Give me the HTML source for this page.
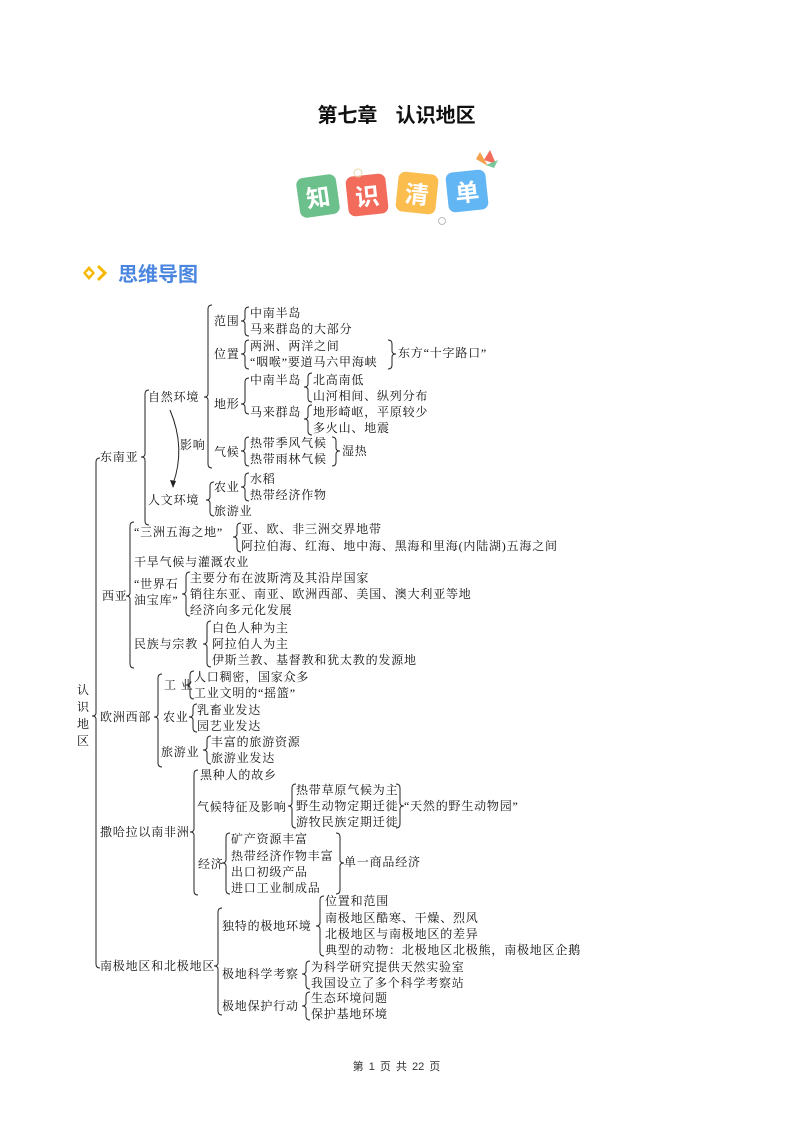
<!DOCTYPE html>
<html><head><meta charset="utf-8"><style>
html,body{margin:0;padding:0;background:#fff}
#pg{position:relative;width:793px;height:1122px;overflow:hidden;font-family:"Liberation Serif","Noto Serif CJK SC","Noto Sans CJK SC",serif;color:#111}
.t{position:absolute;font-size:12px;line-height:16px;white-space:nowrap;letter-spacing:0.8px}
.tile{position:absolute;width:40px;height:40px;border-radius:7px;color:#fff;font:bold 24px/40px "Noto Sans CJK SC",sans-serif;text-align:center}
</style></head><body><div id="pg">
<div style="position:absolute;left:0;width:793px;top:101px;text-align:center;font:bold 20px/26px 'Noto Sans CJK SC',sans-serif;">第七章&nbsp;&nbsp;&nbsp;&nbsp;认识地区</div>
<div class="tile" style="left:298px;top:176px;background:#6cc08b;transform:rotate(-8deg)">知</div>
<div class="tile" style="left:347px;top:175px;background:#f26b5b;transform:rotate(-6deg)">识</div>
<div class="tile" style="left:397px;top:173px;background:#fbbd4e;transform:rotate(6deg)">清</div>
<div class="tile" style="left:447px;top:171px;background:#63b6f4;transform:rotate(-6deg)">单</div>
<svg style="position:absolute;left:0;top:0" width="793" height="1122">
<path d="M480 152 L488 166 L476 159Z" fill="#f5a04a"/><path d="M490 150 L496 164 L484 160Z" fill="#f26b5b"/><path d="M498 160 L494 168 L486 165Z" fill="#7cc79a"/>
<circle cx="358" cy="173" r="4" fill="none" stroke="#e8d9a8"/><circle cx="442" cy="221" r="3.5" fill="none" stroke="#bbb"/>
<path d="M83 273 L89 266 L95 273 L89 280Z M86 273 L89 270 L92 273 L89 276Z" fill="#f5b800" fill-rule="evenodd"/>
<path d="M98 266 L105 273 L98 280" fill="none" stroke="#f5b800" stroke-width="3"/>
<g fill="none" stroke="#222" stroke-width="1">
<path d="M100,458 Q96,458 96,462 V713 Q96,716 92,716 Q96,716 96,719 V964 Q96,968 100,968"/>
<path d="M149,390 Q145,390 145,394 V454 Q145,457 141,457 Q145,457 145,460 V521 Q145,525 149,525"/>
<path d="M212,305 Q208,305 208,309 V394 Q208,397 204,397 Q208,397 208,400 V464 Q208,468 212,468"/>
<path d="M249,307 Q245,307 245,311 V318 Q245,321 241,321 Q245,321 245,324 V332 Q245,336 249,336"/>
<path d="M249,340 Q245,340 245,344 V351 Q245,354 241,354 Q245,354 245,357 V365 Q245,369 249,369"/>
<path d="M249,378 Q245,378 245,382 V401 Q245,404 241,404 Q245,404 245,407 V410 Q245,414 249,414"/>
<path d="M312,373 Q308,373 308,377 V384 Q308,387 304,387 Q308,387 308,390 V398 Q308,402 312,402"/>
<path d="M312,405 Q308,405 308,409 V416 Q308,419 304,419 Q308,419 308,422 V431 Q308,435 312,435"/>
<path d="M249,437 Q245,437 245,441 V448 Q245,451 241,451 Q245,451 245,454 V462 Q245,466 249,466"/>
<path d="M214,482 Q210,482 210,486 V497 Q210,500 206,500 Q210,500 210,503 V512 Q210,516 214,516"/>
<path d="M249,473 Q245,473 245,477 V484 Q245,487 241,487 Q245,487 245,490 V497 Q245,501 249,501"/>
<path d="M134,522 Q130,522 130,526 V593 Q130,596 126,596 Q130,596 130,599 V664 Q130,668 134,668"/>
<path d="M241,523 Q237,523 237,527 V534 Q237,537 233,537 Q237,537 237,540 V548 Q237,552 241,552"/>
<path d="M190,572 Q186,572 186,576 V591 Q186,594 182,594 Q186,594 186,597 V612 Q186,616 190,616"/>
<path d="M211,621 Q207,621 207,625 V641 Q207,644 203,644 Q207,644 207,647 V663 Q207,667 211,667"/>
<path d="M162,674 Q158,674 158,678 V714 Q158,717 154,717 Q158,717 158,720 V763 Q158,767 162,767"/>
<path d="M194,671 Q190,671 190,675 V682 Q190,685 186,685 Q190,685 190,688 V695 Q190,699 194,699"/>
<path d="M197,704 Q193,704 193,708 V714 Q193,717 189,717 Q193,717 193,720 V728 Q193,732 197,732"/>
<path d="M211,736 Q207,736 207,740 V747 Q207,750 203,750 Q207,750 207,753 V760 Q207,764 211,764"/>
<path d="M198,770 Q194,770 194,774 V829 Q194,832 190,832 Q194,832 194,835 V891 Q194,895 198,895"/>
<path d="M296,784 Q292,784 292,788 V803 Q292,806 288,806 Q292,806 292,809 V824 Q292,828 296,828"/>
<path d="M230,833 Q226,833 226,837 V860 Q226,863 222,863 Q226,863 226,866 V890 Q226,894 230,894"/>
<path d="M222,908 Q218,908 218,912 V963 Q218,966 214,966 Q218,966 218,969 V1011 Q218,1015 222,1015"/>
<path d="M324,896 Q320,896 320,900 V923 Q320,926 316,926 Q320,926 320,929 V952 Q320,956 324,956"/>
<path d="M310,961 Q306,961 306,965 V971 Q306,974 302,974 Q306,974 306,977 V985 Q306,989 310,989"/>
<path d="M310,992 Q306,992 306,996 V1003 Q306,1006 302,1006 Q306,1006 306,1009 V1016 Q306,1020 310,1020"/>
<path d="M388,340 Q392,340 392,344 V351 Q392,354 396,354 Q392,354 392,357 V365 Q392,369 388,369"/>
<path d="M332,437 Q336,437 336,441 V448 Q336,451 340,451 Q336,451 336,454 V462 Q336,466 332,466"/>
<path d="M396,784 Q400,784 400,788 V803 Q400,806 404,806 Q400,806 400,809 V824 Q400,828 396,828"/>
<path d="M336,833 Q340,833 340,837 V860 Q340,863 344,863 Q340,863 340,866 V890 Q340,894 336,894"/>
<path d="M170,410 Q186,448 173,484"/>
</g>
<path d="M173,488 L170,480 L176,481Z" fill="#222"/>
</svg>
<div style="position:absolute;left:118px;top:259px;font:bold 20px/28px 'Noto Sans CJK SC',sans-serif;color:#4a86e0">思维导图</div>
<div class="t" style="left:77px;top:682px;line-height:17px;width:14px;white-space:normal">认识地区</div>
<div class="t" style="left:250px;top:305px">中南半岛</div>
<div class="t" style="left:250px;top:321px">马来群岛的大部分</div>
<div class="t" style="left:214px;top:313px">范围</div>
<div class="t" style="left:250px;top:338px">两洲、两洋之间</div>
<div class="t" style="left:250px;top:354px">“咽喉”要道马六甲海峡</div>
<div class="t" style="left:214px;top:346px">位置</div>
<div class="t" style="left:398px;top:345px">东方“十字路口”</div>
<div class="t" style="left:250px;top:372px">中南半岛</div>
<div class="t" style="left:313px;top:372px">北高南低</div>
<div class="t" style="left:313px;top:388px">山河相间、纵列分布</div>
<div class="t" style="left:214px;top:396px">地形</div>
<div class="t" style="left:250px;top:404px">马来群岛</div>
<div class="t" style="left:313px;top:404px">地形崎岖，平原较少</div>
<div class="t" style="left:313px;top:420px">多火山、地震</div>
<div class="t" style="left:148px;top:389px">自然环境</div>
<div class="t" style="left:180px;top:437px">影响</div>
<div class="t" style="left:214px;top:444px">气候</div>
<div class="t" style="left:250px;top:435px">热带季风气候</div>
<div class="t" style="left:250px;top:451px">热带雨林气候</div>
<div class="t" style="left:342px;top:443px">湿热</div>
<div class="t" style="left:100px;top:449px">东南亚</div>
<div class="t" style="left:214px;top:479px">农业</div>
<div class="t" style="left:250px;top:471px">水稻</div>
<div class="t" style="left:250px;top:487px">热带经济作物</div>
<div class="t" style="left:148px;top:492px">人文环境</div>
<div class="t" style="left:214px;top:503px">旅游业</div>
<div class="t" style="left:134px;top:524px">“三洲五海之地”</div>
<div class="t" style="left:241px;top:521px">亚、欧、非三洲交界地带</div>
<div class="t" style="left:241px;top:538px">阿拉伯海、红海、地中海、黑海和里海(内陆湖)五海之间</div>
<div class="t" style="left:134px;top:554px">干旱气候与灌溉农业</div>
<div class="t" style="left:134px;top:576px">“世界石</div>
<div class="t" style="left:134px;top:592px">油宝库”</div>
<div class="t" style="left:190px;top:570px">主要分布在波斯湾及其沿岸国家</div>
<div class="t" style="left:190px;top:586px">销往东亚、南亚、欧洲西部、美国、澳大利亚等地</div>
<div class="t" style="left:190px;top:602px">经济向多元化发展</div>
<div class="t" style="left:134px;top:636px">民族与宗教</div>
<div class="t" style="left:212px;top:620px">白色人种为主</div>
<div class="t" style="left:212px;top:636px">阿拉伯人为主</div>
<div class="t" style="left:212px;top:652px">伊斯兰教、基督教和犹太教的发源地</div>
<div class="t" style="left:102px;top:588px">西亚</div>
<div class="t" style="left:100px;top:709px">欧洲西部</div>
<div class="t" style="left:164px;top:677px">工 业</div>
<div class="t" style="left:194px;top:669px">人口稠密，国家众多</div>
<div class="t" style="left:194px;top:685px">工业文明的“摇篮”</div>
<div class="t" style="left:163px;top:709px">农业</div>
<div class="t" style="left:197px;top:702px">乳畜业发达</div>
<div class="t" style="left:197px;top:718px">园艺业发达</div>
<div class="t" style="left:161px;top:744px">旅游业</div>
<div class="t" style="left:211px;top:734px">丰富的旅游资源</div>
<div class="t" style="left:211px;top:750px">旅游业发达</div>
<div class="t" style="left:200px;top:767px">黑种人的故乡</div>
<div class="t" style="left:197px;top:799px">气候特征及影响</div>
<div class="t" style="left:296px;top:782px">热带草原气候为主</div>
<div class="t" style="left:296px;top:798px">野生动物定期迁徙</div>
<div class="t" style="left:296px;top:814px">游牧民族定期迁徙</div>
<div class="t" style="left:404px;top:798px">“天然的野生动物园”</div>
<div class="t" style="left:100px;top:824px">撒哈拉以南非洲</div>
<div class="t" style="left:198px;top:856px">经济</div>
<div class="t" style="left:231px;top:831px">矿产资源丰富</div>
<div class="t" style="left:231px;top:848px">热带经济作物丰富</div>
<div class="t" style="left:231px;top:864px">出口初级产品</div>
<div class="t" style="left:231px;top:880px">进口工业制成品</div>
<div class="t" style="left:344px;top:854px">单一商品经济</div>
<div class="t" style="left:325px;top:893px">位置和范围</div>
<div class="t" style="left:325px;top:910px">南极地区酷寒、干燥、烈风</div>
<div class="t" style="left:325px;top:926px">北极地区与南极地区的差异</div>
<div class="t" style="left:325px;top:942px">典型的动物：北极地区北极熊，南极地区企鹅</div>
<div class="t" style="left:222px;top:918px">独特的极地环境</div>
<div class="t" style="left:100px;top:958px">南极地区和北极地区</div>
<div class="t" style="left:222px;top:966px">极地科学考察</div>
<div class="t" style="left:311px;top:959px">为科学研究提供天然实验室</div>
<div class="t" style="left:311px;top:975px">我国设立了多个科学考察站</div>
<div class="t" style="left:222px;top:998px">极地保护行动</div>
<div class="t" style="left:311px;top:990px">生态环境问题</div>
<div class="t" style="left:311px;top:1006px">保护基地环境</div>
<div style="position:absolute;left:0;width:793px;top:1059px;text-align:center;font:11px/16px 'Liberation Sans','Noto Sans CJK SC',sans-serif;color:#333;word-spacing:2px">第 1 页 共 22 页</div>
</div></body></html>
